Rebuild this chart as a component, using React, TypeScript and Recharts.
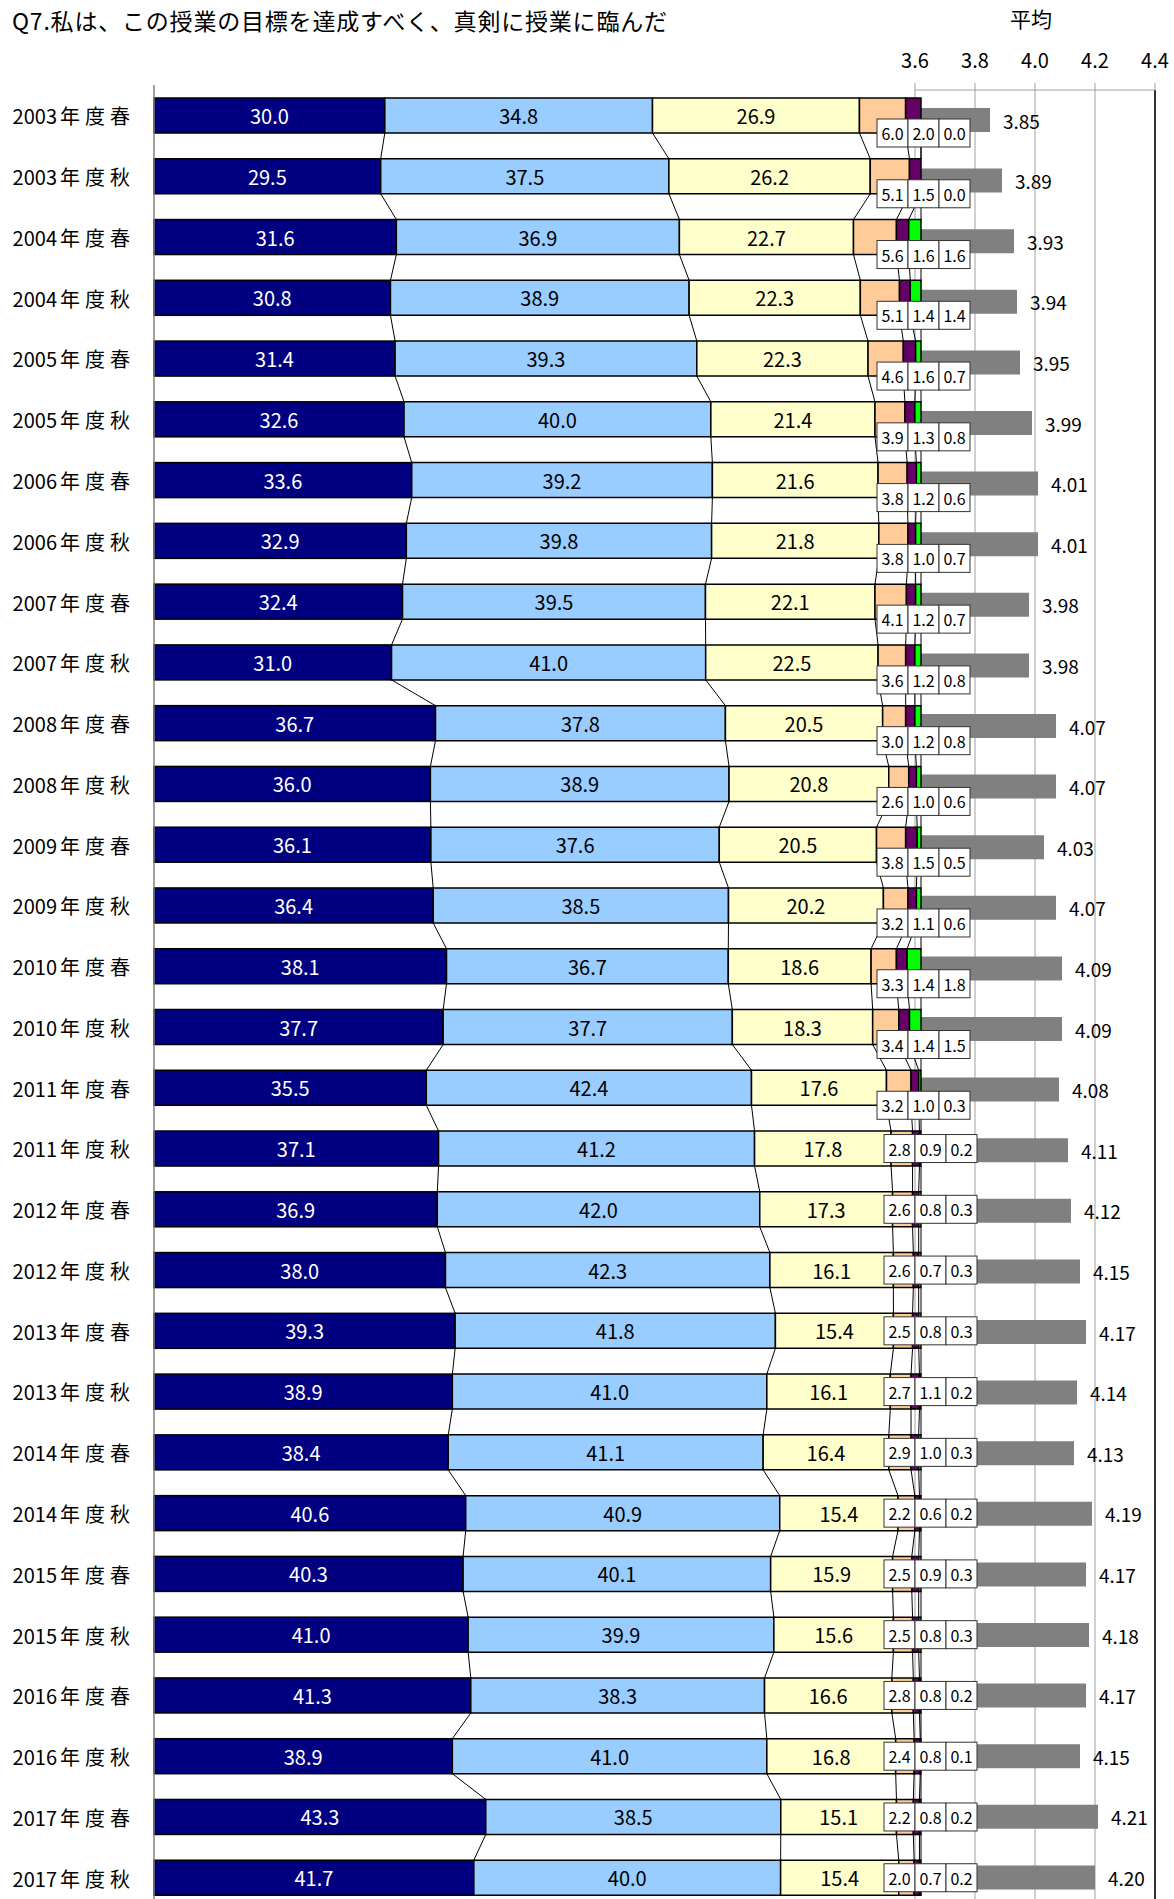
import React from 'react';
import { BarChart, Bar, XAxis, YAxis, CartesianGrid, LabelList, ReferenceLine } from 'recharts';

const FONT = '"Noto Sans CJK JP", "Noto Sans", sans-serif';

const terms = [
  '2003年度春', '2003年度秋', '2004年度春', '2004年度秋', '2005年度春', '2005年度秋',
  '2006年度春', '2006年度秋', '2007年度春', '2007年度秋', '2008年度春', '2008年度秋',
  '2009年度春', '2009年度秋', '2010年度春', '2010年度秋', '2011年度春', '2011年度秋',
  '2012年度春', '2012年度秋', '2013年度春', '2013年度秋', '2014年度春', '2014年度秋',
  '2015年度春', '2015年度秋', '2016年度春', '2016年度秋', '2017年度春', '2017年度秋',
];

// answer shares (%), from "strongly agree" to "no answer"
const stronglyAgree = [30.0, 29.5, 31.6, 30.8, 31.4, 32.6, 33.6, 32.9, 32.4, 31.0, 36.7, 36.0, 36.1, 36.4, 38.1, 37.7, 35.5, 37.1, 36.9, 38.0, 39.3, 38.9, 38.4, 40.6, 40.3, 41.0, 41.3, 38.9, 43.3, 41.7];
const agree = [34.8, 37.5, 36.9, 38.9, 39.3, 40.0, 39.2, 39.8, 39.5, 41.0, 37.8, 38.9, 37.6, 38.5, 36.7, 37.7, 42.4, 41.2, 42.0, 42.3, 41.8, 41.0, 41.1, 40.9, 40.1, 39.9, 38.3, 41.0, 38.5, 40.0];
const neutral = [26.9, 26.2, 22.7, 22.3, 22.3, 21.4, 21.6, 21.8, 22.1, 22.5, 20.5, 20.8, 20.5, 20.2, 18.6, 18.3, 17.6, 17.8, 17.3, 16.1, 15.4, 16.1, 16.4, 15.4, 15.9, 15.6, 16.6, 16.8, 15.1, 15.4];
const disagree = [6.0, 5.1, 5.6, 5.1, 4.6, 3.9, 3.8, 3.8, 4.1, 3.6, 3.0, 2.6, 3.8, 3.2, 3.3, 3.4, 3.2, 2.8, 2.6, 2.6, 2.5, 2.7, 2.9, 2.2, 2.5, 2.5, 2.8, 2.4, 2.2, 2.0];
const stronglyDisagree = [2.0, 1.5, 1.6, 1.4, 1.6, 1.3, 1.2, 1.0, 1.2, 1.2, 1.2, 1.0, 1.5, 1.1, 1.4, 1.4, 1.0, 0.9, 0.8, 0.7, 0.8, 1.1, 1.0, 0.6, 0.9, 0.8, 0.8, 0.8, 0.8, 0.7];
const noAnswer = [0.0, 0.0, 1.6, 1.4, 0.7, 0.8, 0.6, 0.7, 0.7, 0.8, 0.8, 0.6, 0.5, 0.6, 1.8, 1.5, 0.3, 0.2, 0.3, 0.3, 0.3, 0.2, 0.3, 0.2, 0.3, 0.3, 0.2, 0.1, 0.2, 0.2];
const averages = [3.85, 3.89, 3.93, 3.94, 3.95, 3.99, 4.01, 4.01, 3.98, 3.98, 4.07, 4.07, 4.03, 4.07, 4.09, 4.09, 4.08, 4.11, 4.12, 4.15, 4.17, 4.14, 4.13, 4.19, 4.17, 4.18, 4.17, 4.15, 4.21, 4.20];
const avgTicks = [3.6, 3.8, 4.0, 4.2, 4.4];

const series = [stronglyAgree, agree, neutral, disagree, stronglyDisagree, noAnswer];
const colors = ['#000080', '#99CCFF', '#FFFFCC', '#FFCC99', '#660066', '#00FF00'];
const sums = terms.map((_, i) => series.reduce((a, s) => a + s[i], 0));
const edgeTicks = [...terms.map((_, i) => i), terms.length];

const rows = terms.map((name, i) => ({
  name,
  s0: stronglyAgree[i], s1: agree[i], s2: neutral[i],
  s3: disagree[i], s4: stronglyDisagree[i], s5: noAnswer[i],
  avg: averages[i],
}));

const CHART_W = 1174;
const CHART_H = 1930;
const LEFT_MARGIN = { top: 85, right: 253, bottom: 22, left: 0 };
const RIGHT_MARGIN = { top: 60, right: 19, bottom: 22, left: 915 };
const BAND = (CHART_H - LEFT_MARGIN.top - LEFT_MARGIN.bottom) / terms.length;
const BOXED_BELOW = 17; // rows whose small labels sit under the bar

const rowIndex = (p: any) => (typeof p.index === 'number' ? p.index : terms.indexOf(p?.payload?.name));
const box = (p: any) => p.viewBox && p.viewBox.width !== undefined ? p.viewBox : p;

// first segment + the thin "series lines" linking segment edges to the next row
const FirstSegment = (props: any) => {
  const { x, y, width, height, payload } = props;
  const i = terms.indexOf(payload.name);
  const full = (width * sums[i]) / stronglyAgree[i];
  const links: React.ReactNode[] = [];
  if (i >= 0 && i < terms.length - 1) {
    let c0 = 0;
    let c1 = 0;
    series.forEach((s, k) => {
      c0 += s[i];
      c1 += s[i + 1];
      links.push(
        <line key={k} x1={x + (full * c0) / sums[i]} y1={y + height}
          x2={x + (full * c1) / sums[i + 1]} y2={y + BAND} stroke="#000" strokeWidth={1} />
      );
    });
  }
  return (
    <g>
      {links}
      <rect x={x} y={y} width={width} height={height} fill={colors[0]} stroke="#000" strokeWidth={1.5} />
    </g>
  );
};

const centerLabel = (list: number[], color: string) => (p: any) => {
  const i = rowIndex(p);
  const b = box(p);
  return (
    <text x={b.x + b.width / 2} y={b.y + b.height / 2} textAnchor="middle" dominantBaseline="central"
      fontSize={20} fontFamily={FONT} fill={color}>{list[i].toFixed(1)}</text>
  );
};

const smallBoxes = (p: any) => {
  const i = rowIndex(p);
  const b = box(p);
  const end = b.x + (b.width * sums[i]) / stronglyAgree[i];
  const below = i < BOXED_BELOW;
  const cy = below ? b.y + b.height : b.y + b.height / 2;
  const left = end - (below ? 44 : 37);
  const w = 31;
  const h = 28;
  return (
    <g>
      {[disagree, stronglyDisagree, noAnswer].map((s, k) => (
        <g key={k}>
          <rect x={left + k * w} y={cy - h / 2} width={w} height={h} fill="#fff" stroke="#333" strokeWidth={1} />
          <text x={left + k * w + w / 2} y={cy} textAnchor="middle" dominantBaseline="central"
            fontSize={16} fontFamily={FONT} fill="#000">{s[i].toFixed(1)}</text>
        </g>
      ))}
    </g>
  );
};

const TermTick = (props: any) => {
  const { x, y, payload } = props;
  const label: string = payload.value;
  return (
    <text x={x + 5} y={y} textAnchor="end" dominantBaseline="central" fontSize={20} fontFamily={FONT} fill="#000">
      <tspan>{label.slice(0, 4)}</tspan>
      <tspan dx={3} letterSpacing={5}>{label.slice(4)}</tspan>
    </text>
  );
};

const avgLabel = (p: any) => {
  const i = rowIndex(p);
  const b = box(p);
  return (
    <text x={b.x + b.width + 13} y={b.y + b.height / 2} dominantBaseline="central"
      fontSize={19} fontFamily={FONT} fill="#000">{averages[i].toFixed(2)}</text>
  );
};

export default function App() {
  return (
    <div style={{ position: 'absolute', left: 0, top: 0, width: CHART_W, height: 1899, overflow: 'hidden', background: '#fff', fontFamily: FONT }}>
      <div style={{ position: 'absolute', left: 12, top: 9, fontSize: 23, lineHeight: '23px', letterSpacing: 0.8, whiteSpace: 'nowrap' }}>
        Q7.私は、この授業の目標を達成すべく、真剣に授業に臨んだ
      </div>
      <div style={{ position: 'absolute', left: 981, top: 8, width: 100, textAlign: 'center', fontSize: 21, lineHeight: '21px' }}>
        平均
      </div>

      <div style={{ position: 'absolute', left: 0, top: 0 }}>
        <BarChart width={CHART_W} height={CHART_H} data={rows} layout="vertical" margin={RIGHT_MARGIN}>
          <CartesianGrid horizontal={false} stroke="#a0a0a0" />
          <XAxis type="number" orientation="top" domain={[3.6, 4.4]} ticks={avgTicks} height={30}
            tickFormatter={(v: number) => v.toFixed(1)} tickSize={7} tickMargin={15}
            axisLine={{ stroke: '#a0a0a0' }} tickLine={{ stroke: '#a0a0a0' }}
            tick={{ fontSize: 20, fill: '#000', fontFamily: FONT }} interval={0} allowDataOverflow />
          <YAxis type="category" dataKey="name" hide />
          <ReferenceLine x={4.4} stroke="#000" strokeWidth={1.5} />
          <Bar dataKey="avg" fill="#808080" barSize={24} isAnimationActive={false}>
            <LabelList dataKey="avg" content={avgLabel} />
          </Bar>
        </BarChart>
      </div>

      <div style={{ position: 'absolute', left: 0, top: 0 }}>
        <BarChart width={CHART_W} height={CHART_H} data={rows} layout="vertical" margin={LEFT_MARGIN}
          stackOffset="expand" barSize={35}>
          <XAxis type="number" domain={[0, 1]} hide />
          <YAxis yAxisId="cat" type="category" dataKey="name" width={154} interval={0}
            axisLine={{ stroke: '#808080', strokeWidth: 1.5 }} tickLine={false} tickSize={0} tickMargin={24}
            tick={<TermTick />} />
          <YAxis yAxisId="edge" type="number" domain={[0, terms.length]} ticks={edgeTicks} reversed mirror
            width={10} axisLine={false} tick={false} tickSize={6} tickLine={{ stroke: '#808080' }} interval={0} />
          <Bar yAxisId="cat" dataKey="s0" stackId="a" fill={colors[0]} shape={<FirstSegment />} isAnimationActive={false}>
            <LabelList dataKey="s0" content={centerLabel(stronglyAgree, '#fff')} />
            <LabelList dataKey="s0" content={smallBoxes} />
          </Bar>
          <Bar yAxisId="cat" dataKey="s1" stackId="a" fill={colors[1]} stroke="#000" strokeWidth={1.5} isAnimationActive={false}>
            <LabelList dataKey="s1" content={centerLabel(agree, '#000')} />
          </Bar>
          <Bar yAxisId="cat" dataKey="s2" stackId="a" fill={colors[2]} stroke="#000" strokeWidth={1.5} isAnimationActive={false}>
            <LabelList dataKey="s2" content={centerLabel(neutral, '#000')} />
          </Bar>
          <Bar yAxisId="cat" dataKey="s3" stackId="a" fill={colors[3]} stroke="#000" strokeWidth={1.5} isAnimationActive={false} />
          <Bar yAxisId="cat" dataKey="s4" stackId="a" fill={colors[4]} stroke="#000" strokeWidth={1.5} isAnimationActive={false} />
          <Bar yAxisId="cat" dataKey="s5" stackId="a" fill={colors[5]} stroke="#000" strokeWidth={1.5} isAnimationActive={false} />
        </BarChart>
      </div>
    </div>
  );
}
